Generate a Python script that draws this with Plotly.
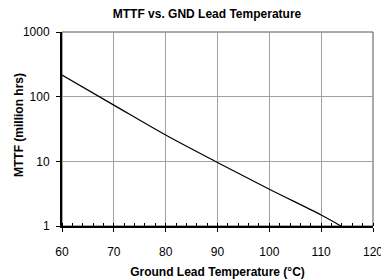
import plotly.graph_objects as go

temps = [60, 70, 80, 90, 100, 110, 113.8]
mttf = [216, 74, 25.5, 9.6, 3.7, 1.48, 1.0]

x_ticks = [60, 70, 80, 90, 100, 110, 120]
y_ticks = [1, 10, 100, 1000]
y_tick_labels = ["1", "10", "100", "1000"]

FONT = "Liberation Sans, Arial"
W, H = 381, 279
ML, MR, MT, MB = 62, 8, 32, 53
PW, PH = W - ML - MR, H - MT - MB

fig = go.Figure()
fig.add_trace(go.Scatter(x=temps, y=mttf, mode="lines",
                         line=dict(color="black", width=1.2, shape="spline"),
                         showlegend=False, hoverinfo="skip"))

fig.update_layout(
    width=W, height=H,
    margin=dict(l=ML, r=MR, t=MT, b=MB, autoexpand=False),
    paper_bgcolor="white", plot_bgcolor="white",
    font=dict(family=FONT, size=12, color="black"),
    title=dict(text="<b>MTTF vs. GND Lead Temperature</b>",
               font=dict(family=FONT, size=12, color="black"),
               x=207 / W, xanchor="center", y=1 - 14 / H, yanchor="middle"),
    shapes=[dict(type="rect", xref="paper", yref="paper", x0=0, x1=1, y0=0, y1=1,
                 line=dict(color="#555555", width=1), layer="below")],
    annotations=[dict(text="<b>MTTF (million hrs)</b>", textangle=-90,
                      xref="paper", yref="paper",
                      x=(19 - ML) / PW, y=(MT + PH - 125) / PH,
                      xanchor="center", yanchor="middle", showarrow=False,
                      font=dict(family=FONT, size=12, color="black"))],
)
fig.update_xaxes(
    range=[60, 120], tickvals=x_ticks, showgrid=True, gridcolor="#a0a0a0", gridwidth=1,
    zeroline=False, showline=True, linecolor="black", linewidth=2,
    ticks="outside", ticklen=4, tickcolor="black", tickwidth=1,
    ticklabelstandoff=10, ticklabeloverflow="allow", automargin=False,
    minor=dict(dtick=2, ticks="inside", ticklen=3, tickcolor="black", showgrid=False),
    title=dict(text="<b>Ground Lead Temperature (°C)</b>", font=dict(family=FONT, size=12), standoff=10),
)
fig.update_yaxes(
    type="log", range=[0, 3], tickvals=y_ticks, ticktext=y_tick_labels,
    showgrid=True, gridcolor="#a0a0a0", gridwidth=1,
    zeroline=False, showline=True, linecolor="black", linewidth=2,
    ticks="outside", ticklen=4, tickcolor="black", tickwidth=1,
    ticklabelstandoff=4, automargin=False,
)

fig.write_html("out.html", config={"displayModeBar": False},
               post_script="document.body.style.margin='0';document.body.style.overflow='hidden';")
